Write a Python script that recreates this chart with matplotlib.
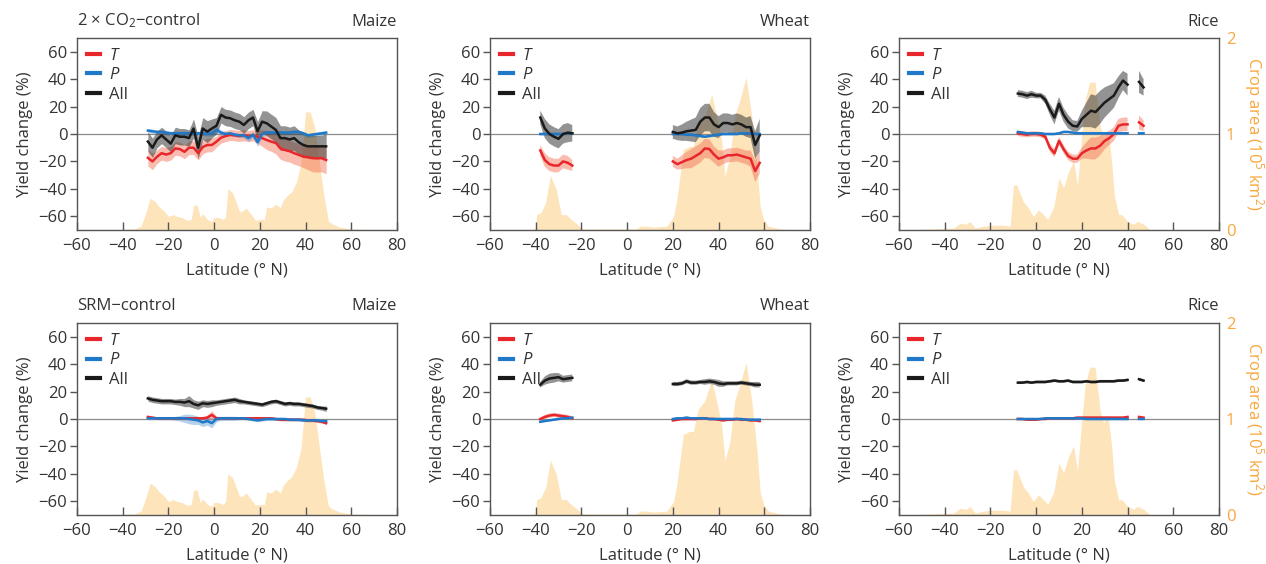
import numpy as np
import matplotlib
matplotlib.use("Agg")
import matplotlib.pyplot as plt
from matplotlib.lines import Line2D

nan = np.nan
plt.rcParams['font.family'] = ['Open Sans', 'DejaVu Sans']
plt.rcParams['mathtext.fontset'] = 'custom'
plt.rcParams['mathtext.rm'] = 'Open Sans'
plt.rcParams['mathtext.it'] = 'Open Sans:italic'

# ---------------- data ----------------
maize_lat = [-29, -27, -25, -23, -21, -19, -17, -15, -13, -11, -9, -7, -5, -3, -1, 1, 3, 5, 7, 9,
             11, 13, 15, 17, 19, 21, 23, 25, 27, 29, 31, 33, 35, 37, 39, 41, 43, 45, 47, 49]
wheat_lat = [-38, -36, -34, -32, -30, -28, -26, -24, -10, 20, 22, 24, 26, 28, 30, 32, 34, 36, 38,
             40, 42, 44, 46, 48, 50, 52, 54, 56, 58]
rice_lat = [-8, -6, -4, -2, 0, 2, 4, 6, 8, 10, 12, 14, 16, 18, 20, 22, 24, 26, 28, 30, 32, 34,
            36, 38, 40, 42, 45, 47]

# 2xCO2 - control
co2_maize_all = [-5.5, -10, -4, -1, -4, -7, -1, -2, -2, -3, 4, -10, 4, 1.7, 4, 6, 14, 12, 11.5, 10,
                 9, 6.6, 10, 12, 2, 9, 7.8, 5.4, 3, -3, -3, -4, -3, -6, -8, -9, -9, -9, -9, -9]
co2_maize_all_err = [7, 7, 6, 6, 6, 6, 6, 6, 6, 6, 7, 8, 8, 8, 7, 6, 6, 6, 6, 6,
                     6, 6, 6, 6, 7, 8, 9, 9, 9, 9, 9, 9, 9, 9, 8, 8, 8, 8, 8, 9]
co2_maize_t = [-17.4, -20, -16.6, -14, -15, -14, -10.5, -11, -13, -10, -10, -14, -9.5, -8, -8, -5.6, -2.7, -1.5, -0.7, -1,
               -1.5, -1, -1.5, -1, -2, -3, -4.4, -5.6, -6.5, -10.5, -11.7, -12.5, -14, -15.2, -16.5, -17, -17.6, -17.8, -17.6, -19]
co2_maize_t_err = [6, 6, 5, 5, 5, 5, 5, 5, 5, 5, 5, 5, 5, 5, 5, 4, 4, 4, 4, 4,
                   4, 4, 4, 4, 5, 6, 7, 7, 8, 8, 8, 8, 8, 8, 8, 9, 10, 10, 10, 10]
co2_maize_p = [2.5, 2, 1.5, 1.5, 1, 0.5, 0.5, 0.5, 0.5, 0.5, 0.5, 0.5, 0.5, 0, 0.5, 3, 1, 0, 0.5, -0.5,
               -1, -1, -3, -0.5, -6, 0, 1, 1, 1, 1, 1, 1, 1.5, 1.5, 0.5, -1, -0.5, 0, 0.5, 1]
co2_maize_p_err = [1.5] * 14 + [2, 2.5, 2, 1.5, 1.5, 1.5, 1.5, 2, 2.5, 2, 3, 2] + [1.5] * 14

co2_wheat_all = [12, 4, 0, -2, -3.5, 0, 1, 0.5, nan, 1.5, 0.5, 1, 2, 2.5, 3, 9, 12, 12, 7,
                 5, 8, 8, 7, 8, 7, 5, 5, -8, -1]
co2_wheat_all_err = [5, 7, 7, 7, 7, 7, 7, 6, nan, 5, 5, 6, 7, 8, 9, 10, 10, 10, 9,
                     8, 7, 7, 7, 7, 7, 7, 8, 10, 12]
co2_wheat_t = [-12, -19, -22, -23, -23, -20, -21, -23, nan, -20, -22, -20.5, -19, -18, -16, -14, -10.5, -11, -15,
               -18, -17, -15.5, -15.5, -15, -16, -17, -18, -27, -21]
co2_wheat_t_err = [4, 5, 5, 5, 5, 5, 5, 4, nan, 4, 4, 5, 6, 7, 7, 7, 7, 7, 6,
                   6, 5, 5, 5, 5, 5, 5, 6, 8, 8]
co2_wheat_p = [0, 0, 0, 0, 0, 0, 0.5, 0.5, nan, 0, 0, 0, -0.5, -0.5, -1, -1.5, -2, -1.5, -1,
               -0.5, 0, 0, 0, 0, 0.5, 0.5, 0.5, 0, 0]
co2_wheat_p_err = [1] * 8 + [nan] + [1] * 20

co2_rice_all = [29.5, 29, 28, 29, 28, 28, 25, 18, 12, 22, 14, 9, 6, 5.5, 11, 14, 17, 16, 19.5, 23,
                25.5, 28, 34, 39, 36, nan, 38, 34]
co2_rice_all_err = [2.5, 2.5, 2.5, 2.5, 2, 2, 3, 4, 5, 5, 5, 5, 4, 4, 6, 9, 12, 12, 12, 11,
                    10, 9, 8, 7, 8, nan, 8, 6]
co2_rice_t = [0.5, 0, -0.5, 0, 0, -0.5, -2, -10, -14, -5, -11, -16, -18, -18, -14, -12, -10.5, -10.5, -8.5, -5,
              -3, 0, 6, 7, 7, nan, 8.5, 6]
co2_rice_t_err = [2, 2, 2, 2, 2, 2, 2, 3, 3, 3, 3, 3, 3, 3, 4, 6, 8, 8, 7, 6,
                  5, 5, 5, 5, 5, nan, 5, 4]
co2_rice_p = [1.5, 1, 0.5, 0.5, 0.5, 0.5, 0, 0, 0, 0.5, 1.5, 1.5, 1, 0.5, 0.5, 0.5, 0.5, 0.5, 0.5, 0.5,
              0.5, 0.5, 0.5, 0.5, 0.5, nan, 0.5, 0.5]
co2_rice_p_err = [0.8] * 25 + [nan, 0.8, 0.8]

# SRM - control
srm_maize_all = [15, 14, 13.5, 13, 13, 13, 12.5, 12.5, 12, 13, 11, 10, 11.5, 11, 11.5, 12, 12.5, 13, 13.5, 14,
                 13, 12.5, 12, 11.5, 11, 10.5, 11.5, 12.5, 13, 12, 11, 11.5, 11, 11, 10.5, 10, 9.5, 8.5, 8, 7.5]
srm_maize_all_err = [2, 2, 2, 2, 2, 2, 2, 2.5, 3, 4, 3, 3, 2.5, 2.5, 2.5, 2, 2, 2, 2, 2,
                     2, 1.5, 1.5, 1.5, 1.5, 1.5, 1.5, 1.5, 1.5, 1.5, 1.5, 1.5, 1.5, 1.5, 1.5, 1.5, 1.5, 1.5, 1.5, 2]
srm_maize_t = [1.5, 1, 0.5, 0.5, 0.5, 0.5, 0.5, 0.5, 0.5, 0.5, 0.5, 0.5, 0.5, 1, 3, 0.5, 0.5, 0.5, 0.5, 0.5,
               0.5, 0.5, 0.5, 0.5, 0.5, 0.5, 0.5, 0.5, 0, -0.5, -0.5, -0.5, -0.5, -0.5, -0.5, -1, -1, -1.5, -2, -3]
srm_maize_t_err = [1] * 13 + [2, 3, 1.5] + [1] * 24
srm_maize_p = [0.5, 0.5, 0.5, 0.5, 0.5, 0.5, 0.5, 0.5, 0.5, 0, -0.5, -1, -2.5, -1.5, -3, 0, 0.5, 0.5, 0.5, 0.5,
               0.5, 0.5, 0, -0.5, -1, -0.5, 0, 0, 0, 0, 0, -0.5, -0.5, -0.5, -1, -1, -1, -1, -1.5, -1.5]
srm_maize_p_err = [1, 1, 1, 1, 1, 1, 1.5, 2, 3, 3.5, 3.5, 3, 3, 3, 3.5, 2, 1.5, 1.5, 1.5, 1.5] + [1] * 20

srm_wheat_all = [25, 28, 29.5, 30, 30.5, 29, 29.5, 30, nan, 25.5, 25.5, 26, 27.5, 26.5, 26.5, 27, 27, 27.5, 27,
                 26, 25.5, 26, 26, 26, 26.5, 26, 25.5, 25, 25]
srm_wheat_all_err = [2, 3, 3.5, 3.5, 3, 2.5, 2.5, 2.5, nan, 1.5, 1.5, 1.5, 1.5, 1.5, 1.5, 1.5, 2, 2, 2,
                     2.5, 2, 1.5, 1.5, 1.5, 1.5, 1.5, 1.5, 2, 2]
srm_wheat_t = [0, 1.5, 2.5, 3, 2.5, 2, 1.5, 0.5, nan, -1, -0.5, 0, 0, 0, 0, 0.5, 0.5, 0, 0,
               -0.5, -1, -0.5, -0.5, 0, -0.5, -0.5, -1, -1, -1.5]
srm_wheat_t_err = [1, 1.5, 1.5, 1.5, 1.5, 1.5, 1.5, 1.5, nan] + [1] * 20
srm_wheat_p = [-2, -1.5, -1, -0.5, 0, 0.5, 0.5, 1, nan, 0, 0.5, 0.5, 1, 0.5, 0.5, 0.5, 0.5, 0, 0,
               0, 0, 0, 0, 0, 0, -0.5, -0.5, -0.5, -0.5]
srm_wheat_p_err = [0.8] * 8 + [nan] + [0.8] * 20

srm_rice_all = [26.5, 26.5, 27, 26.5, 27, 27, 27, 27.5, 28, 27.5, 27.5, 28, 27, 27, 27, 27.5, 27, 27, 27.5, 27.5,
                27.5, 27.5, 28, 28, 28.5, nan, 29, 28]
srm_rice_all_err = [1] * 25 + [nan, 1, 1]
srm_rice_t = [0, 0, -0.5, -0.5, -0.5, 0, 0, 0.5, 0.5, 0.5, 0.5, 0.5, 0.5, 1, 1, 1, 1, 1, 1, 1,
              1, 1, 1, 1, 1.5, nan, 1.5, 1]
srm_rice_t_err = [0.8] * 25 + [nan, 0.8, 0.8]
srm_rice_p = [0, 0, 0, 0, 0, 0, 0.5, 0.5, 0.5, 0.5, 0.5, 0.5, 0.5, 0.5, 0.5, 0, 0, 0, 0, 0,
              0, 0, 0, 0, 0, nan, 0, 0]
srm_rice_p_err = [0.6] * 25 + [nan, 0.6, 0.6]

# crop area (10^5 km^2)
maize_area_lat = [-60, -35, -32, -30, -28, -26, -24, -22, -20, -18, -16, -14, -12, -10, -9, -7.5, -6, -5, -3, -1,
                  0, 2, 4, 5, 6, 8, 9, 11, 12, 14, 16, 18, 20, 22, 23, 25, 27, 29, 30, 32,
                  34, 36, 38, 40, 42, 44, 46, 48, 50, 52, 55, 60, 80]
maize_area = [0, 0.01, 0.04, 0.17, 0.33, 0.30, 0.24, 0.20, 0.14, 0.16, 0.14, 0.13, 0.10, 0.11, 0.26, 0.26, 0.13, 0.17, 0.11, 0.09,
              0.13, 0.13, 0.11, 0.14, 0.43, 0.39, 0.33, 0.20, 0.19, 0.23, 0.17, 0.10, 0.11, 0.11, 0.24, 0.23, 0.27, 0.23, 0.30, 0.36,
              0.40, 0.50, 0.69, 1.23, 1.23, 1.07, 0.71, 0.36, 0.09, 0.06, 0.03, 0.01, 0]
wheat_area_lat = [-60, -42, -40, -39.6, -37.7, -35.6, -33.6, -31, -28.8, -26.7, -24.5, -22.3, -20.1, -18, 4, 5.7, 8.6,
                  11.5, 17.4, 20.3, 21.7, 24.6, 27.2, 29, 31.1, 34, 37, 40, 41.3, 42.8, 45, 47.1, 49.4, 52, 54.5,
                  56.7, 58.2, 59.7, 61.8, 67, 80]
wheat_area = [0, 0.005, 0.02, 0.16, 0.18, 0.29, 0.57, 0.42, 0.16, 0.16, 0.11, 0.07, 0.02, 0.01, 0.01, 0.04, 0.04,
              0.03, 0.04, 0.14, 0.31, 0.84, 0.87, 0.87, 1.10, 1.19, 1.41, 1.09, 0.94, 0.56, 0.77, 1.19, 1.36, 1.59, 1.19,
              0.70, 0.24, 0.11, 0.04, 0.01, 0]
rice_area_lat = [-60, -36, -33.3, -30.7, -28.9, -26.7, -23.1, -18.7, -14.3, -11.4, -9.9, -8.5, -5.5, -3.4, -1.2, 1,
                 3.2, 5, 7.6, 10, 12, 14.2, 16.4, 18.1, 20, 21.5, 23.4, 25.8, 28, 29.5, 31.4, 33.1, 34.2, 36.1,
                 37.5, 40, 42.6, 44.4, 47, 50, 80]
rice_area = [0, 0.02, 0.07, 0.06, 0.09, 0.02, 0.04, 0.05, 0.05, 0.04, 0.47, 0.47, 0.29, 0.23, 0.14, 0.21,
             0.16, 0.11, 0.23, 0.54, 0.44, 0.61, 0.72, 0.46, 1.0, 1.36, 1.54, 1.54, 1.08, 0.96, 1.05, 0.70, 0.36, 0.16,
             0.16, 0.09, 0.06, 0.09, 0.06, 0.0, 0]

xticks = [-60, -40, -20, 0, 20, 40, 60, 80]
yticks = [-60, -40, -20, 0, 20, 40, 60]
area_ticks = [0, 1, 2]
crops = ['Maize', 'Wheat', 'Rice']
scenarios = ['2 × CO$_2$−control', 'SRM−control']

# ---------------- style ----------------
RED = '#e8262b'
BLUE = '#1f78c8'
BLACK = '#1a1a1a'
TAN = '#fde4bb'
ORANGE = '#f9a73e'
TXT = '#333333'
FS = 12

panels = [
    [(maize_lat, co2_maize_t, co2_maize_t_err, co2_maize_p, co2_maize_p_err, co2_maize_all, co2_maize_all_err,
      maize_area_lat, maize_area),
     (wheat_lat, co2_wheat_t, co2_wheat_t_err, co2_wheat_p, co2_wheat_p_err, co2_wheat_all, co2_wheat_all_err,
      wheat_area_lat, wheat_area),
     (rice_lat, co2_rice_t, co2_rice_t_err, co2_rice_p, co2_rice_p_err, co2_rice_all, co2_rice_all_err,
      rice_area_lat, rice_area)],
    [(maize_lat, srm_maize_t, srm_maize_t_err, srm_maize_p, srm_maize_p_err, srm_maize_all, srm_maize_all_err,
      maize_area_lat, maize_area),
     (wheat_lat, srm_wheat_t, srm_wheat_t_err, srm_wheat_p, srm_wheat_p_err, srm_wheat_all, srm_wheat_all_err,
      wheat_area_lat, wheat_area),
     (rice_lat, srm_rice_t, srm_rice_t_err, srm_rice_p, srm_rice_p_err, srm_rice_all, srm_rice_all_err,
      rice_area_lat, rice_area)],
]

W, H = 1266, 564
fig = plt.figure(figsize=(W / 100, H / 100), dpi=100)
col_left = [77, 490, 899]
row_top = [38, 323]
ax_w, ax_h = 320, 192

for r in range(2):
    for c in range(3):
        lat, t, te, p, pe, a, ae, alat, area = panels[r][c]
        lat = np.array(lat, float)
        t, te, p, pe, a, ae = [np.array(v, float) for v in (t, te, p, pe, a, ae)]
        rect = [col_left[c] / W, 1 - (row_top[r] + ax_h) / H, ax_w / W, ax_h / H]
        ax = fig.add_axes(rect)
        tw = ax.twinx()
        ax.set_zorder(tw.get_zorder() + 1)
        ax.patch.set_visible(False)

        tw.fill_between(alat, 0, area, color=TAN, lw=0, zorder=1)
        tw.set_ylim(0, 2)
        tw.set_yticks(area_ticks)
        for s in tw.spines.values():
            s.set_visible(False)
        if c == 2:
            tw.tick_params(axis='y', length=0, colors=ORANGE, labelsize=FS, pad=5)
            tw.set_ylabel('Crop area (10$^5$ km$^2$)', color=ORANGE, fontsize=FS, rotation=270, labelpad=22)
        else:
            tw.tick_params(axis='y', length=0, labelright=False)

        ax.axhline(0, color='#8a8a8a', lw=0.9, zorder=1)
        ax.fill_between(lat, t - te, t + te, color='#f26b4f', alpha=0.45, lw=0, zorder=2)
        ax.fill_between(lat, p - pe, p + pe, color='#5b9bd5', alpha=0.45, lw=0, zorder=2)
        ax.fill_between(lat, a - ae, a + ae, color='#3a3a3a', alpha=0.55, lw=0, zorder=2)
        ax.plot(lat, t, color=RED, lw=1.8, zorder=3)
        ax.plot(lat, p, color=BLUE, lw=1.8, zorder=3)
        ax.plot(lat, a, color=BLACK, lw=1.8, zorder=3)

        ax.set_xlim(-60, 80)
        ax.set_ylim(-70, 70)
        ax.set_xticks(xticks)
        ax.set_yticks(yticks)
        ax.tick_params(axis='x', direction='in', length=6, width=1, colors='#555555', labelcolor=TXT,
                       labelsize=FS, pad=6)
        ax.tick_params(axis='y', direction='out', length=5, width=1, colors='#555555', labelcolor=TXT,
                       labelsize=FS, pad=2)
        for s in ax.spines.values():
            s.set_color('#555555')
            s.set_linewidth(1)
        ax.set_xlabel('Latitude (° N)', fontsize=FS, color=TXT, labelpad=6)
        ax.set_ylabel('Yield change (%)', fontsize=FS, color=TXT, labelpad=4)

        handles = [Line2D([], [], color=RED, lw=3), Line2D([], [], color=BLUE, lw=3),
                   Line2D([], [], color=BLACK, lw=3)]
        leg = ax.legend(handles, ['$T$', '$P$', 'All'], loc='upper left', frameon=False, fontsize=FS,
                        handlelength=0.75, handletextpad=0.55, labelspacing=0.2, borderpad=0,
                        borderaxespad=0.6)
        for txt in leg.get_texts():
            txt.set_color(TXT)

        ax.annotate(crops[c], xy=(1, 1), xycoords='axes fraction', xytext=(0, 9), textcoords='offset points',
                    ha='right', va='baseline', fontsize=FS, color=TXT)
        if c == 0:
            ax.annotate(scenarios[r], xy=(0, 1), xycoords='axes fraction', xytext=(0, 9),
                        textcoords='offset points', ha='left', va='baseline', fontsize=FS, color=TXT)

fig.savefig('out.png', dpi=100, facecolor='white')
